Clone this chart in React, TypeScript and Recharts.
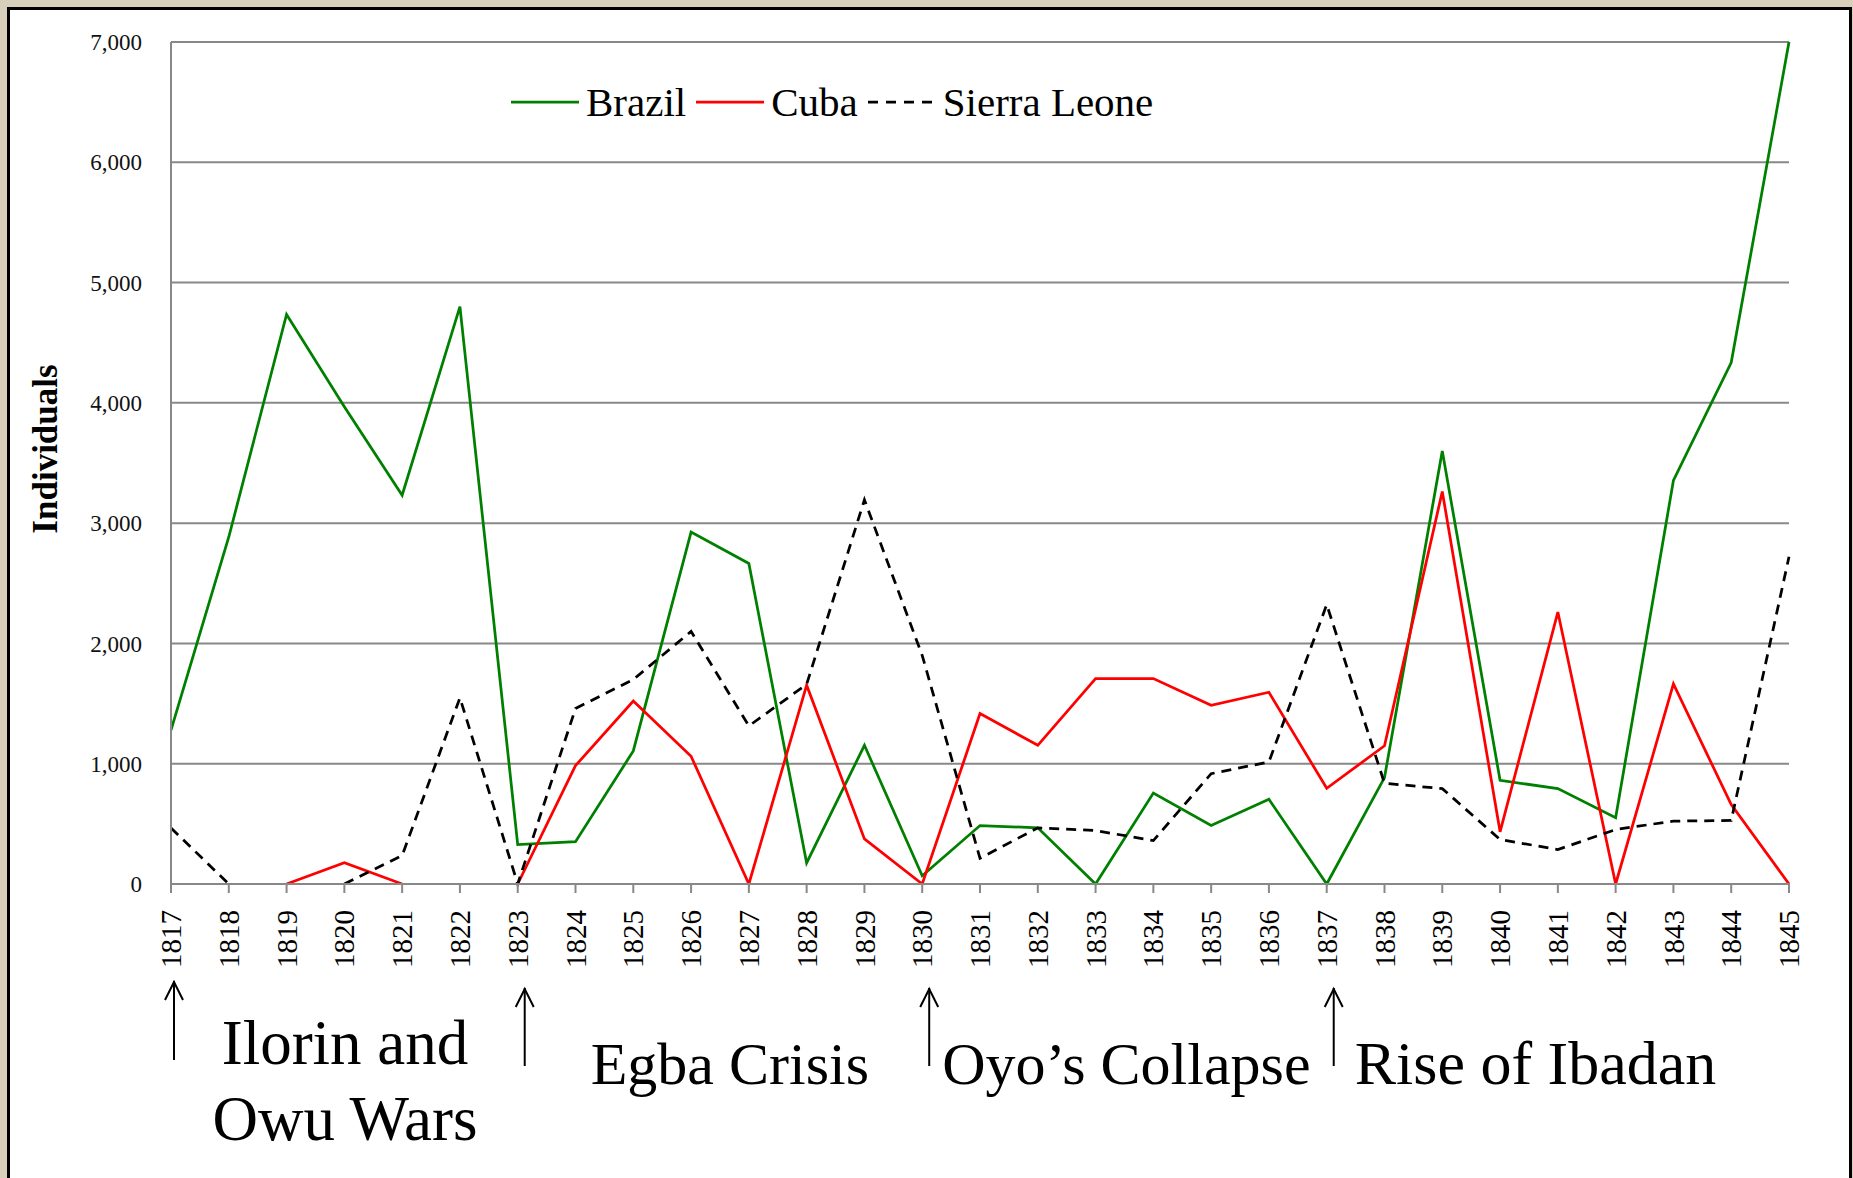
import React from "react";
import { LineChart, Line, XAxis, YAxis, CartesianGrid, Legend } from "recharts";

const years = [
  "1817", "1818", "1819", "1820", "1821", "1822", "1823", "1824", "1825", "1826",
  "1827", "1828", "1829", "1830", "1831", "1832", "1833", "1834", "1835", "1836",
  "1837", "1838", "1839", "1840", "1841", "1842", "1843", "1844", "1845",
];

const brazil = [
  1279, 2885, 4735, 3968, 3232, 4800, 328, 352, 1106, 2925,
  2665, 175, 1153, 68, 486, 467, 0, 756, 486, 704,
  0, 885, 3600, 862, 793, 551, 3355, 4335, 7000,
];

const cuba = [
  null, null, 0, 177, 0, null, 0, 984, 1521, 1062,
  0, 1653, 375, 0, 1417, 1153, 1708, 1708, 1486, 1594,
  796, 1149, 3263, 434, 2261, 0, 1663, 660, 0,
];

const sierraLeone = [
  466, 0, null, 0, 236, 1548, 0, 1459, 1700, 2100,
  1314, 1660, 3194, 1900, 214, 467, 444, 361, 917, 1015,
  2323, 837, 793, 370, 286, 453, 523, 528, 2720,
];

const yTicks = [0, 1000, 2000, 3000, 4000, 5000, 6000, 7000];

// historical periods marked under the axis
const eventYears = ["1817", "1823", "1830", "1837"];
const eventLabels = [["Ilorin and", "Owu Wars"], ["Egba Crisis"], ["Oyo\u2019s Collapse"], ["Rise of Ibadan"]];

const data = years.map((year, i) => ({
  year,
  brazil: brazil[i],
  cuba: cuba[i],
  sierraLeone: sierraLeone[i],
}));

const FONT = "'Liberation Serif', 'DejaVu Serif', serif";

const legendItems = [
  { name: "Brazil", color: "#008000", dash: undefined },
  { name: "Cuba", color: "#ff0000", dash: undefined },
  { name: "Sierra Leone", color: "#000000", dash: "10 8" },
];

const renderLegend = () => (
  <div style={{ display: "flex", alignItems: "center", fontFamily: FONT, fontSize: 41, color: "#000" }}>
    {legendItems.map((item) => (
      <div key={item.name} style={{ display: "flex", alignItems: "center", marginRight: 10 }}>
        <svg width={68} height={10} style={{ marginRight: 7 }}>
          <line x1={0} y1={5} x2={68} y2={5} stroke={item.color} strokeWidth={2.75} strokeDasharray={item.dash} />
        </svg>
        <span>{item.name}</span>
      </div>
    ))}
  </div>
);

const YearTick = (props: any) => {
  const { x, y, payload } = props;
  const idx = eventYears.indexOf(payload.value);
  const first = idx === 0;
  const ax = x + (first ? 3 : 7);
  const top = first ? y + 86 : y + 93;
  const bottom = first ? y + 165 : y + 171;
  return (
    <g>
      <text
        x={x}
        y={y + 15}
        transform={`rotate(-90, ${x}, ${y + 15})`}
        textAnchor="end"
        dy="0.35em"
        fontSize={29}
        fontFamily={FONT}
        fill="#000"
      >
        {payload.value}
      </text>
      {idx >= 0 && (
        <g>
          <line x1={ax} y1={top} x2={ax} y2={bottom} stroke="#000" strokeWidth={2} />
          <path d={`M${ax - 9},${top + 19} L${ax},${top + 1} L${ax + 9},${top + 19}`} fill="none" stroke="#000" strokeWidth={2} />
          {first ? (
            <g>
              <text x={x + 174} y={y + 169} textAnchor="middle" fontSize={63} fontFamily={FONT} fill="#000">
                {eventLabels[idx][0]}
              </text>
              <text x={x + 174} y={y + 245} textAnchor="middle" fontSize={63} fontFamily={FONT} fill="#000">
                {eventLabels[idx][1]}
              </text>
            </g>
          ) : (
            <text
              x={x + [0, 73, 20, 28][idx]}
              y={y + 189}
              fontSize={[61, 60, 60, 62][idx]}
              fontFamily={FONT}
              fill="#000"
            >
              {eventLabels[idx][0]}
            </text>
          )}
        </g>
      )}
    </g>
  );
};

const YLabel = (props: any) => {
  const { viewBox } = props;
  const cx = viewBox.x + 24;
  const cy = viewBox.y + viewBox.height / 2 - 14;
  return (
    <text
      x={cx}
      y={cy}
      transform={`rotate(-90, ${cx}, ${cy})`}
      textAnchor="middle"
      dominantBaseline="central"
      fontSize={35}
      fontWeight="bold"
      fontFamily={FONT}
      fill="#000"
    >
      Individuals
    </text>
  );
};

export default function App() {
  return (
    <div style={{ position: "absolute", left: 0, top: 0, width: 1853, height: 1178, background: "#d8d0bb", overflow: "hidden" }}>
      <div
        style={{
          position: "absolute",
          left: 7,
          top: 7,
          width: 1845,
          height: 1180,
          boxSizing: "border-box",
          background: "#fff",
          borderLeft: "3px solid #000",
          borderTop: "3px solid #000",
          borderRight: "3px solid #000",
        }}
      />
      <div style={{ position: "absolute", left: 0, top: 0 }}>
        <LineChart width={1853} height={1178} data={data} margin={{ top: 42, right: 64, left: 21, bottom: 254 }}>
          <CartesianGrid horizontal vertical={false} stroke="#888888" strokeWidth={2} />
          <XAxis
            dataKey="year"
            height={40}
            interval={0}
            axisLine={{ stroke: "#888888", strokeWidth: 2 }}
            tickLine={{ stroke: "#888888", strokeWidth: 2 }}
            tickSize={9}
            tick={<YearTick />}
          />
          <YAxis
            width={150}
            domain={[0, 7000]}
            ticks={yTicks}
            interval={0}
            axisLine={{ stroke: "#888888", strokeWidth: 2 }}
            tickLine={false}
            tickMargin={23}
            tickFormatter={(v: number) => v.toLocaleString("en-US")}
            tick={{ fontSize: 23, fontFamily: FONT, fill: "#111" }}
            label={<YLabel />}
          />
          <Legend
            content={renderLegend}
            layout="horizontal"
            verticalAlign="middle"
            align="center"
            wrapperStyle={{ position: "absolute", top: 78, left: 511, width: "auto", height: "auto" }}
          />
          <Line type="linear" dataKey="brazil" name="Brazil" stroke="#008000" strokeWidth={2.75} dot={false} isAnimationActive={false} />
          <Line type="linear" dataKey="cuba" name="Cuba" stroke="#ff0000" strokeWidth={2.75} dot={false} isAnimationActive={false} />
          <Line
            type="linear"
            dataKey="sierraLeone"
            name="Sierra Leone"
            stroke="#000000"
            strokeWidth={2.75}
            strokeDasharray="10 7"
            dot={false}
            isAnimationActive={false}
          />
        </LineChart>
      </div>
    </div>
  );
}
